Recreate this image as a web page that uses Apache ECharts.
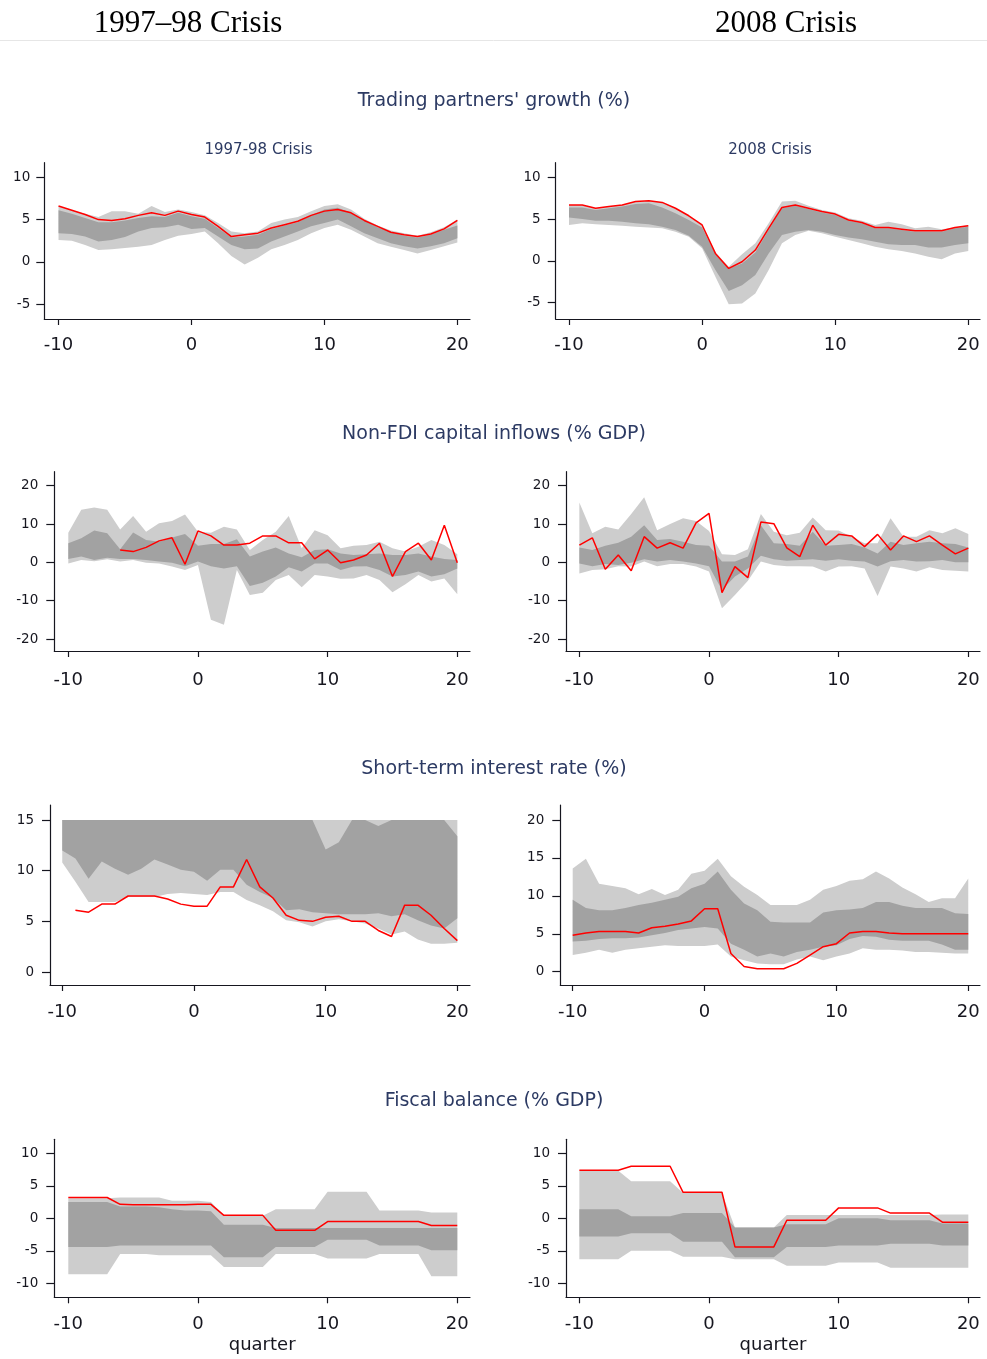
<!DOCTYPE html>
<html>
<head>
<meta charset="utf-8">
<script src="https://cdn.jsdelivr.net/npm/echarts@6/dist/echarts.min.js"></script>
<style>
html,body{margin:0;padding:0;background:#fff;}
#chart{width:987px;height:1359px;}
</style>
</head>
<body>
<div id="chart"></div>
<script>
// ---------- DATA ----------
const quarters = [-10,-9,-8,-7,-6,-5,-4,-3,-2,-1,0,1,2,3,4,5,6,7,8,9,10,11,12,13,14,15,16,17,18,19,20];
const xTicks = [-10,0,10,20];
const yTicksGrowth = [-5,0,5,10];
const yTicksFlows = [-20,-10,0,10,20];
const yTicksRate97 = [0,5,10,15];
const yTicksRate08 = [0,5,10,15,20];
const yTicksFiscal = [-10,-5,0,5,10];

const headerLeft = '1997\u201398 Crisis';
const headerRight = '2008 Crisis';
const subLeft = '1997-98 Crisis';
const subRight = '2008 Crisis';
const rowTitles = ["Trading partners' growth (%)", 'Non-FDI capital inflows (% GDP)', 'Short-term interest rate (%)', 'Fiscal balance (% GDP)'];
const xName = 'quarter';

// Trading partners' growth, 1997-98
const tp97Red     = [6.6,6.1,5.6,5.0,4.9,5.1,5.5,5.8,5.5,6.0,5.6,5.3,4.2,3.0,3.2,3.4,4.0,4.4,4.8,5.5,6.0,6.2,5.8,4.9,4.2,3.5,3.2,3.0,3.3,3.9,4.9];
const tp97LightHi = [6.6,6.1,5.7,5.3,6.0,6.0,5.7,6.6,5.9,6.2,5.9,5.5,4.6,3.6,3.4,3.6,4.6,5.0,5.3,6.0,6.6,6.8,6.2,5.1,4.3,3.7,3.4,3.1,3.5,4.1,5.0];
const tp97DarkHi  = [6.1,5.7,5.2,4.7,4.7,4.9,5.2,5.4,5.3,5.8,5.4,5.1,4.0,2.9,3.0,3.2,3.9,4.3,4.7,5.5,6.2,6.4,5.8,4.9,4.1,3.5,3.1,2.9,3.2,3.8,4.3];
const tp97DarkLo  = [3.4,3.3,3.0,2.4,2.6,2.95,3.6,4.0,4.1,4.4,3.9,4.0,3.0,2.0,1.5,1.6,2.4,3.0,3.6,4.2,4.6,5.0,4.2,3.4,2.8,2.2,1.85,1.6,1.85,2.2,2.8];
const tp97LightLo = [2.6,2.5,2.0,1.4,1.5,1.65,1.8,2.0,2.6,3.1,3.3,3.6,2.2,0.7,-0.3,0.5,1.5,2.0,2.6,3.4,4.0,4.4,3.8,3.0,2.2,1.8,1.4,1.0,1.4,1.85,2.3];

// Trading partners' growth, 2008
const tp08Red     = [6.7,6.7,6.3,6.5,6.7,7.1,7.2,7.0,6.3,5.4,4.3,0.9,-0.9,-0.1,1.3,3.9,6.4,6.7,6.3,5.9,5.6,4.9,4.6,4.0,4.0,3.8,3.6,3.6,3.6,4.0,4.2];
const tp08LightHi = [6.7,6.7,6.3,6.5,6.7,7.1,7.2,7.0,6.3,5.4,4.3,1.0,-0.7,0.8,2.1,4.5,7.1,7.2,6.6,6.1,5.8,5.1,4.8,4.3,4.7,4.4,3.9,4.1,3.8,4.0,4.3];
const tp08DarkHi  = [6.4,6.4,6.1,6.3,6.5,6.8,6.9,6.4,5.7,4.9,4.0,0.8,-0.9,-0.3,1.0,3.7,6.3,6.6,6.2,5.8,5.5,4.8,4.5,3.9,3.9,3.7,3.5,3.5,3.5,3.9,4.1];
const tp08DarkLo  = [5.2,5.0,4.8,4.8,4.7,4.5,4.4,4.1,3.7,3.0,1.7,-1.1,-3.6,-2.9,-1.7,0.9,3.1,3.5,3.7,3.5,3.1,2.8,2.6,2.3,2.0,1.9,1.9,1.6,1.6,1.9,2.1];
const tp08LightLo = [4.3,4.5,4.4,4.3,4.2,4.1,4.0,3.9,3.5,2.9,1.5,-1.9,-5.2,-5.1,-3.9,-1.1,2.1,3.1,3.6,3.3,2.9,2.5,2.1,1.7,1.4,1.2,0.9,0.5,0.2,0.9,1.2];

// Non-FDI capital inflows, 1997-98
const nf97Red     = [null,null,null,null,3.2,2.8,3.9,5.6,6.4,-0.5,8.2,6.9,4.5,4.5,5.0,6.9,6.9,5.1,5.1,0.9,3.2,-0.1,0.6,1.9,5.0,-3.7,2.8,5.0,0.6,9.7,-0.1];
const nf97LightHi = [7.7,13.7,14.3,13.7,8.6,12.1,8.0,10.2,10.8,12.5,8.0,7.7,9.3,8.6,3.2,5.8,8.0,12.1,3.7,8.4,7.1,3.7,4.3,4.5,5.4,3.7,2.8,4.1,5.8,4.5,2.1];
const nf97DarkHi  = [5.0,6.3,8.3,7.6,3.4,7.8,5.8,5.4,6.5,7.4,4.3,4.8,4.8,6.0,1.5,2.8,3.9,2.3,1.3,3.2,3.4,2.3,1.9,2.1,2.3,1.9,1.9,2.3,1.5,0.9,0.6];
const nf97DarkLo  = [0.9,1.5,0.6,1.2,0.9,0.9,0.6,0.2,-0.1,-1.0,0.2,-1.0,-1.6,-1.0,-6.2,-5.3,-3.7,-1.3,-2.4,-0.3,-0.3,-2.0,-1.1,-1.0,-2.0,-3.7,-3.3,-2.4,-3.7,-3.1,-1.6];
const nf97LightLo = [-0.3,0.6,0.3,0.8,0.2,0.6,-0.1,-0.3,-1.1,-2.0,-0.7,-15.0,-16.3,-2.0,-8.5,-7.9,-4.6,-3.3,-6.5,-3.3,-3.7,-4.3,-4.2,-3.3,-4.6,-7.8,-5.7,-3.3,-5.0,-4.2,-8.3];

// Non-FDI capital inflows, 2008
const nf08Red     = [4.5,6.4,-1.8,1.9,-2.2,6.7,3.7,5.1,3.7,10.3,12.8,-7.9,-1.1,-4.0,10.5,10.1,3.8,1.5,9.7,4.5,7.3,6.9,4.1,7.3,3.2,6.9,5.4,6.9,4.5,2.2,3.7];
const nf08LightHi = [15.6,7.6,9.3,8.6,12.6,17.0,8.4,10.0,11.5,10.8,8.2,2.1,1.9,3.4,12.6,8.0,7.1,7.7,11.7,8.4,8.3,6.7,5.0,5.0,11.5,6.7,6.7,8.4,7.6,8.9,7.4];
const nf08DarkHi  = [3.9,3.2,4.3,5.1,6.7,9.7,5.8,6.1,5.4,4.5,4.3,0.2,0.2,1.5,9.7,5.0,4.8,4.3,8.0,4.3,4.5,4.8,3.9,2.3,5.4,4.5,5.0,5.4,5.0,4.8,3.9];
const nf08DarkLo  = [-0.3,-1.0,-0.4,-0.7,-0.1,0.8,0.2,0.6,0.2,-0.3,-1.0,-7.2,-3.7,-1.6,1.7,0.8,0.4,0.6,0.8,0.4,0.8,0.4,0.2,-1.1,0.3,0.6,0.2,0.3,0.6,0.0,0.0];
const nf08LightLo = [-2.9,-2.0,-1.8,-1.0,-1.1,0.2,-1.0,-0.4,-0.4,-1.1,-2.4,-12.0,-8.5,-4.8,0.2,-0.7,-1.0,-1.0,-1.1,-2.4,-1.1,-1.0,-1.6,-8.8,-1.1,-1.6,-2.4,-1.3,-2.0,-2.2,-2.4];

// Short-term interest rate, 1997-98
const sr97Red     = [null,6.1,5.9,6.7,6.7,7.5,7.5,7.5,7.2,6.7,6.5,6.5,8.4,8.4,11.1,8.4,7.3,5.6,5.1,5.0,5.4,5.5,5.0,5.0,4.1,3.5,6.6,6.6,5.6,4.3,3.1];
const sr97LightHi = [15,15,15,15,15,15,15,15,15,15,15,15,15,15,15,15,15,15,15,15,15,15,15,15,15,15,15,15,15,15,15];
const sr97DarkHi  = [15,15,15,15,15,15,15,15,15,15,15,15,15,15,15,15,15,15,15,15,12.1,12.8,15,15,14.4,15,15,15,15,15,13.4];
const sr97DarkLo  = [12.0,11.2,9.2,10.9,10.2,9.6,10.2,11.1,10.6,10.1,9.9,9.0,10.1,10.1,8.6,7.9,7.3,6.1,6.2,5.9,5.8,5.7,5.7,5.7,5.8,5.5,5.7,5.1,4.6,4.3,5.3];
const sr97LightLo = [10.8,8.9,6.9,6.9,6.9,7.4,7.4,7.4,7.7,7.8,7.7,7.6,7.9,7.9,7.1,6.6,6.0,5.1,4.9,4.5,5.0,5.2,5.0,4.8,4.3,3.7,4.0,3.2,2.8,2.8,2.9];

// Short-term interest rate, 2008
const sr08Red     = [4.8,5.1,5.3,5.3,5.3,5.1,5.8,6.0,6.3,6.7,8.3,8.3,2.4,0.7,0.4,0.4,0.4,1.1,2.2,3.3,3.7,5.1,5.3,5.3,5.1,5.0,5.0,5.0,5.0,5.0,5.0];
const sr08LightHi = [13.6,14.9,11.6,11.3,11.0,10.2,10.9,10.1,10.8,12.9,13.3,14.9,12.6,11.2,10.1,8.8,8.8,8.8,9.5,10.8,11.3,12.0,12.2,13.2,12.3,11.1,10.2,9.2,9.7,9.7,12.3];
const sr08DarkHi  = [9.5,8.4,8.1,8.1,8.4,8.8,9.1,9.5,9.9,11.0,11.6,13.2,10.8,9.0,8.1,6.6,6.5,6.5,6.5,7.8,8.1,8.2,8.4,9.2,9.2,8.7,8.4,8.4,8.4,7.7,7.6];
const sr08DarkLo  = [4.0,4.1,4.3,4.4,4.4,4.5,4.8,5.1,5.5,5.7,5.9,5.7,3.7,2.9,2.0,2.4,2.0,2.6,2.9,3.3,3.5,4.3,4.7,4.6,4.2,4.1,4.1,4.1,3.6,2.9,2.9];
const sr08LightLo = [2.2,2.5,2.9,2.5,2.9,3.1,3.3,3.5,3.4,3.4,3.4,3.6,2.0,1.5,1.1,1.0,1.0,1.6,2.0,1.5,2.0,2.4,3.1,2.9,2.9,2.8,2.6,2.6,2.5,2.4,2.4];

// Fiscal balance, 1997-98
const fb97Red     = [3.2,3.2,3.2,3.2,2.15,2.1,2.1,2.1,2.1,2.1,2.15,2.15,0.45,0.45,0.45,0.45,-1.85,-1.85,-1.85,-1.85,-0.5,-0.5,-0.5,-0.5,-0.5,-0.5,-0.5,-0.5,-1.1,-1.1,-1.1];
const fb97LightHi = [3.1,3.1,3.1,3.1,3.2,3.2,3.2,3.2,2.7,2.7,2.7,2.5,0.4,0.4,0.4,0.4,1.4,1.4,1.4,1.4,4.1,4.1,4.1,4.1,1.2,1.2,1.2,1.2,0.9,0.9,0.9];
const fb97DarkHi  = [2.5,2.5,2.5,2.5,1.8,1.8,1.8,1.7,1.4,1.2,1.2,1.1,-1.0,-1.0,-1.0,-1.0,-1.5,-1.5,-1.5,-1.5,-1.5,-1.5,-1.5,-1.5,-1.5,-1.5,-1.5,-1.5,-1.5,-1.5,-1.5];
const fb97DarkLo  = [-4.4,-4.4,-4.4,-4.4,-4.2,-4.2,-4.2,-4.2,-4.2,-4.2,-4.2,-4.2,-6.0,-6.0,-6.0,-6.0,-4.4,-4.4,-4.4,-4.4,-3.3,-3.3,-3.3,-3.3,-4.2,-4.2,-4.2,-4.2,-4.9,-4.9,-4.9];
const fb97LightLo = [-8.6,-8.6,-8.6,-8.6,-5.5,-5.5,-5.5,-5.7,-5.7,-5.7,-5.7,-5.7,-7.5,-7.5,-7.5,-7.5,-5.5,-5.5,-5.5,-5.5,-6.2,-6.2,-6.2,-6.2,-5.5,-5.5,-5.5,-5.5,-8.9,-8.9,-8.9];

// Fiscal balance, 2008
const fb08Red     = [7.4,7.4,7.4,7.4,8.0,8.0,8.0,8.0,4.0,4.0,4.0,4.0,-4.4,-4.4,-4.4,-4.4,-0.3,-0.3,-0.3,-0.3,1.6,1.6,1.6,1.6,0.8,0.8,0.8,0.8,-0.6,-0.6,-0.6];
const fb08LightHi = [7.3,7.3,7.3,7.3,5.7,5.7,5.7,5.7,3.9,3.9,3.9,3.9,-1.4,-1.4,-1.4,-1.4,0.5,0.5,0.5,0.5,0.5,0.5,0.5,0.5,0.5,0.5,0.5,0.5,0.6,0.6,0.6];
const fb08DarkHi  = [1.4,1.4,1.4,1.4,0.3,0.3,0.3,0.3,0.8,0.8,0.8,0.8,-1.4,-1.4,-1.4,-1.4,-0.9,-0.9,-0.9,-0.9,0.0,0.0,0.0,0.0,-0.3,-0.3,-0.3,-0.3,-0.8,-0.8,-0.8];
const fb08DarkLo  = [-2.8,-2.8,-2.8,-2.8,-2.3,-2.3,-2.3,-2.3,-3.6,-3.6,-3.6,-3.6,-6.0,-6.0,-6.0,-6.0,-4.4,-4.4,-4.4,-4.4,-4.2,-4.2,-4.2,-4.2,-3.9,-3.9,-3.9,-3.9,-4.2,-4.2,-4.2];
const fb08LightLo = [-6.3,-6.3,-6.3,-6.3,-5.0,-5.0,-5.0,-5.0,-5.9,-5.9,-5.9,-5.9,-6.3,-6.3,-6.3,-6.3,-7.3,-7.3,-7.3,-7.3,-6.8,-6.8,-6.8,-6.8,-7.6,-7.6,-7.6,-7.6,-7.6,-7.6,-7.6];

// ---------- LAYOUT ----------
const LIGHT = '#cdcdcd';
const DARK = '#a2a2a2';
const RED = '#ff0000';
const INK = '#16161f';
const TITLE_INK = '#2c3a63';
const SANS = 'DejaVu Sans';

const panels = [
  {grid:{left:44.3, top:162.7, width:425.7, height:156.3}, x:[-11.07,20.95], y:[-6.74,11.72], yt:yTicksGrowth, ym:14, xm:17,
   red:tp97Red, lh:tp97LightHi, dh:tp97DarkHi, dl:tp97DarkLo, ll:tp97LightLo},
  {grid:{left:555.7, top:162.7, width:424.3, height:156.3}, x:[-11.0,20.88], y:[-6.95,11.75], yt:yTicksGrowth, ym:15, xm:17,
   red:tp08Red, lh:tp08LightHi, dh:tp08DarkHi, dl:tp08DarkLo, ll:tp08LightLo},
  {grid:{left:54.3, top:471.7, width:415.7, height:179.3}, x:[-11.08,20.98], y:[-23.13,23.65], yt:yTicksFlows, ym:16, xm:20,
   red:nf97Red, lh:nf97LightHi, dh:nf97DarkHi, dl:nf97DarkLo, ll:nf97LightLo},
  {grid:{left:566, top:471.7, width:414, height:179.3}, x:[-11.03,20.9], y:[-23.13,23.65], yt:yTicksFlows, ym:16, xm:20,
   red:nf08Red, lh:nf08LightHi, dh:nf08DarkHi, dl:nf08DarkLo, ll:nf08LightLo},
  {grid:{left:50, top:805, width:420, height:180}, x:[-10.93,20.96], y:[-1.28,16.48], yt:yTicksRate97, ym:16, xm:18,
   red:sr97Red, lh:sr97LightHi, dh:sr97DarkHi, dl:sr97DarkLo, ll:sr97LightLo},
  {grid:{left:560.3, top:805, width:419.7, height:180}, x:[-10.94,20.89], y:[-1.75,21.98], yt:yTicksRate08, ym:16, xm:18,
   red:sr08Red, lh:sr08LightHi, dh:sr08DarkHi, dl:sr08DarkLo, ll:sr08LightLo},
  {grid:{left:54.3, top:1139.3, width:415.7, height:158}, x:[-11.08,20.98], y:[-12.15,12.15], yt:yTicksFiscal, ym:16, xm:18, name:xName,
   red:fb97Red, lh:fb97LightHi, dh:fb97DarkHi, dl:fb97DarkLo, ll:fb97LightLo},
  {grid:{left:566, top:1139.3, width:414, height:158}, x:[-11.03,20.9], y:[-12.15,12.15], yt:yTicksFiscal, ym:16, xm:18, name:xName,
   red:fb08Red, lh:fb08LightHi, dh:fb08DarkHi, dl:fb08DarkLo, ll:fb08LightLo}
];

function bandSeries(idx, lo, hi, color, z) {
  const data = quarters.map((q, k) => [q, lo[k], hi[k]]);
  return {
    type: 'custom', xAxisIndex: idx, yAxisIndex: idx, data: data, z: z, silent: true,
    encode: {x: 0, y: [1, 2]},
    renderItem: function (params, api) {
      if (params.dataIndex !== 0) return null;
      const pts = [];
      for (let k = 0; k < data.length; k++) pts.push(api.coord([data[k][0], data[k][2]]));
      for (let k = data.length - 1; k >= 0; k--) pts.push(api.coord([data[k][0], data[k][1]]));
      return {type: 'polygon', shape: {points: pts}, style: {fill: color, stroke: null}};
    }
  };
}

const grids = [], xAxes = [], yAxes = [], series = [];
panels.forEach((p, i) => {
  grids.push(Object.assign({containLabel: false}, p.grid));
  xAxes.push({
    type: 'value', gridIndex: i, min: p.x[0], max: p.x[1],
    name: p.name || '', nameLocation: 'middle', nameGap: 39,
    nameTextStyle: {fontFamily: SANS, fontSize: 18, color: INK},
    axisLine: {show: true, onZero: false, lineStyle: {color: INK, width: 1.2}},
    axisTick: {show: true, customValues: xTicks, length: 6, lineStyle: {color: INK, width: 1.2}},
    axisLabel: {customValues: xTicks, fontFamily: SANS, fontSize: 18, color: INK, margin: p.xm},
    splitLine: {show: false}
  });
  yAxes.push({
    type: 'value', gridIndex: i, min: p.y[0], max: p.y[1],
    axisLine: {show: true, onZero: false, lineStyle: {color: INK, width: 1.2}},
    axisTick: {show: true, customValues: p.yt, length: 8, lineStyle: {color: INK, width: 1.2}},
    axisLabel: {customValues: p.yt, fontFamily: SANS, fontSize: 13.5, color: INK, margin: p.ym},
    splitLine: {show: false}
  });
  series.push(bandSeries(i, p.ll, p.lh, LIGHT, 1));
  series.push(bandSeries(i, p.dl, p.dh, DARK, 2));
  series.push({
    type: 'line', xAxisIndex: i, yAxisIndex: i, z: 5, silent: true,
    data: quarters.map((q, k) => [q, p.red[k] == null ? '-' : p.red[k]]),
    symbol: 'none', lineStyle: {color: RED, width: 1.5}
  });
});

const rowTitleY = [101, 434, 769, 1101];
const graphics = [
  {type: 'text', style: {text: headerLeft, x: 188, y: 24, textAlign: 'center', textVerticalAlign: 'middle', font: '31px "Liberation Serif"', fill: '#000'}},
  {type: 'text', style: {text: headerRight, x: 786, y: 24, textAlign: 'center', textVerticalAlign: 'middle', font: '31px "Liberation Serif"', fill: '#000'}},
  {type: 'line', shape: {x1: 0, y1: 40.5, x2: 987, y2: 40.5}, style: {stroke: '#e6e6e6', lineWidth: 1}},
  {type: 'text', style: {text: subLeft, x: 258.5, y: 150, textAlign: 'center', textVerticalAlign: 'middle', font: '15px "DejaVu Sans"', fill: TITLE_INK}},
  {type: 'text', style: {text: subRight, x: 770, y: 150, textAlign: 'center', textVerticalAlign: 'middle', font: '15px "DejaVu Sans"', fill: TITLE_INK}}
];
rowTitles.forEach((t, r) => {
  graphics.push({type: 'text', style: {text: t, x: 494, y: rowTitleY[r], textAlign: 'center', textVerticalAlign: 'middle', font: '19px "DejaVu Sans"', fill: TITLE_INK}});
});

const chart = echarts.init(document.getElementById('chart'), null, {renderer: 'canvas'});
chart.setOption({
  animation: false,
  backgroundColor: '#ffffff',
  grid: grids,
  xAxis: xAxes,
  yAxis: yAxes,
  series: series,
  graphic: graphics
});
</script>
</body>
</html>
